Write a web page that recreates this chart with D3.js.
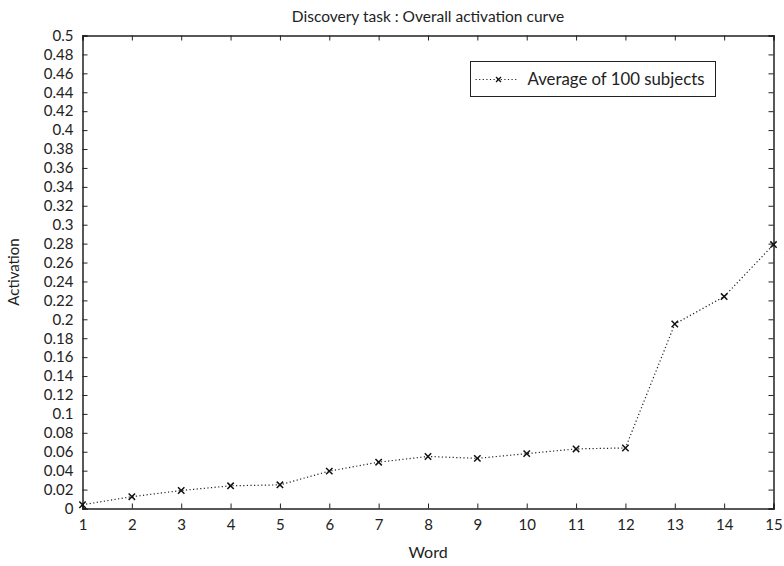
<!DOCTYPE html>
<html>
<head>
<meta charset="utf-8">
<script src="https://cdn.jsdelivr.net/npm/d3@7"></script>
<style>
  body { margin: 0; background: #fff; }
  text { font-family: Lato, "Open Sans", sans-serif; fill: #222; }
</style>
</head>
<body>
<div id="chart"></div>
<script>
// data
var words = [1, 2, 3, 4, 5, 6, 7, 8, 9, 10, 11, 12, 13, 14, 15];
var activation = [0.004, 0.0125, 0.019, 0.024, 0.025, 0.0395, 0.049, 0.055, 0.053, 0.058, 0.063, 0.064, 0.195, 0.224, 0.279];
var yTicks = d3.range(0, 26).map(function (i) { return i * 0.02; });
var seriesName = "Average of 100 subjects";

var W = 784, H = 566;
var margin = { top: 35.5, right: 10.5, bottom: 57.5, left: 82.5 };
var w = W - margin.left - margin.right,
    h = H - margin.top - margin.bottom;

var svg = d3.select("#chart").append("svg")
    .attr("width", W)
    .attr("height", H);

var g = svg.append("g")
    .attr("transform", "translate(" + margin.left + "," + margin.top + ")");

var x = d3.scaleLinear().domain([1, 15]).range([0, w]);
var y = d3.scaleLinear().domain([0, 0.5]).range([h, 0]);

var fmt = function (d) { return d3.format(".2~f")(d); };

// axes, ticks pointing inward
var xAxis = g.append("g").attr("transform", "translate(0," + h + ")")
    .call(d3.axisBottom(x).tickValues(words).tickSize(-5).tickPadding(10).tickFormat(d3.format("d")));
var xTop = g.append("g")
    .call(d3.axisTop(x).tickValues(words).tickSize(-5).tickFormat(""));
var yAxis = g.append("g")
    .call(d3.axisLeft(y).tickValues(yTicks).tickSize(-5).tickPadding(9).tickFormat(fmt));
var yRight = g.append("g").attr("transform", "translate(" + w + ",0)")
    .call(d3.axisRight(y).tickValues(yTicks).tickSize(-5).tickFormat(""));

[xAxis, xTop, yAxis, yRight].forEach(function (a) {
    a.select(".domain").attr("stroke", "#222").attr("stroke-width", 1.5);
    a.selectAll(".tick line").attr("stroke", "#222").attr("stroke-width", 1);
    a.selectAll("text").style("font-size", "15px").attr("fill", "#222");
});
xAxis.selectAll("text").attr("dy", "0.75em");

// line
var line = d3.line()
    .x(function (d, i) { return x(words[i]); })
    .y(function (d) { return y(d); });

g.append("path")
    .datum(activation)
    .attr("d", line)
    .attr("fill", "none")
    .attr("stroke", "#222")
    .attr("stroke-width", 1.2)
    .attr("stroke-dasharray", "1.2,2.4");

var m = 3.2;
g.selectAll(".mark")
    .data(activation)
    .enter().append("path")
    .attr("class", "mark")
    .attr("transform", function (d, i) { return "translate(" + x(words[i]) + "," + y(d) + ")"; })
    .attr("d", "M" + (-m) + "," + (-m) + "L" + m + "," + m + "M" + (-m) + "," + m + "L" + m + "," + (-m))
    .attr("stroke", "#111")
    .attr("stroke-width", 1.5);

// legend
var lg = svg.append("g").attr("transform", "translate(470.5,61.5)");
lg.append("rect")
    .attr("width", 245).attr("height", 35)
    .attr("fill", "#fff").attr("stroke", "#222").attr("stroke-width", 1);
lg.append("line")
    .attr("x1", 5).attr("x2", 48).attr("y1", 18).attr("y2", 18)
    .attr("stroke", "#222").attr("stroke-width", 1.2).attr("stroke-dasharray", "1.2,2.4");
lg.append("path")
    .attr("transform", "translate(28,18)")
    .attr("d", "M-2.5,-2.5L2.5,2.5M-2.5,2.5L2.5,-2.5")
    .attr("stroke", "#111").attr("stroke-width", 1.3);
lg.append("text")
    .attr("x", 57).attr("y", 18).attr("dy", "0.35em")
    .style("font-size", "16.8px")
    .text(seriesName);

// titles
svg.append("text")
    .attr("x", margin.left + w / 2).attr("y", 22)
    .attr("text-anchor", "middle")
    .style("font-size", "15.5px")
    .text("Discovery task : Overall activation curve");

svg.append("text")
    .attr("x", margin.left + w / 2).attr("y", 558)
    .attr("text-anchor", "middle")
    .style("font-size", "16px")
    .text("Word");

svg.append("text")
    .attr("transform", "translate(19," + (margin.top + h / 2) + ") rotate(-90)")
    .attr("text-anchor", "middle")
    .style("font-size", "15px")
    .text("Activation");
</script>
</body>
</html>
